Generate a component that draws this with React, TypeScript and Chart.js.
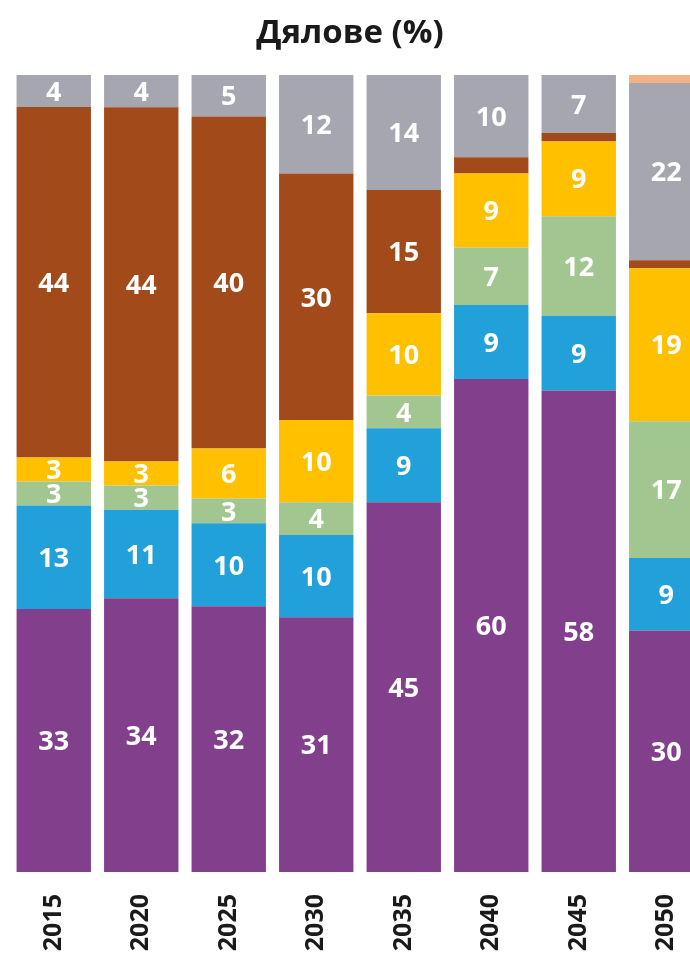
import React, { useEffect, useRef } from "react";
import { Chart, registerables } from "chart.js";

Chart.register(...registerables);

const years = ["2015", "2020", "2025", "2030", "2035", "2040", "2045", "2050"];
const purple = [33, 34, 32, 31, 45, 60, 58, 30];
const blue = [13, 11, 10, 10, 9, 9, 9, 9];
const green = [3, 3, 3, 4, 4, 7, 12, 17];
const yellow = [3, 3, 6, 10, 10, 9, 9, 19];
const brown = [44, 44, 40, 30, 15, 2, 1, 1];
const gray = [4, 4, 5, 12, 14, 10, 7, 22];
const orange = [0, 0, 0, 0, 0, 0, 0, 1];
const titleText = "Дялове (%)";

const series = [
  { name: "purple", values: purple, color: "#813F8C" },
  { name: "blue", values: blue, color: "#22A0DA" },
  { name: "green", values: green, color: "#A2C690" },
  { name: "yellow", values: yellow, color: "#FFC000" },
  { name: "brown", values: brown, color: "#A24A1A" },
  { name: "gray", values: gray, color: "#A5A6AF" },
  { name: "orange", values: orange, color: "#F4B183" },
];

const FONT = "'Open Sans', 'DejaVu Sans', sans-serif";

export default function App() {
  const ref = useRef<HTMLCanvasElement | null>(null);
  useEffect(() => {
    if (!ref.current) return;
    const totals = years.map((_, i) => series.reduce((s, d) => s + d.values[i], 0));
    const labelPlugin = {
      id: "segLabels",
      afterDatasetsDraw(chart: any) {
        const ctx = chart.ctx;
        ctx.save();
        ctx.fillStyle = "#FFFFFF";
        ctx.font = `bold 27px ${FONT}`;
        ctx.textAlign = "center";
        ctx.textBaseline = "middle";
        chart.data.datasets.forEach((ds: any, di: number) => {
          const meta = chart.getDatasetMeta(di);
          meta.data.forEach((bar: any, i: number) => {
            const raw = series[di].values[i];
            if (raw < 3) return;
            const y = (bar.y + bar.base) / 2;
            ctx.fillText(String(raw), bar.x, y + 2);
          });
        });
        ctx.restore();
      },
    };
    const titlePlugin = {
      id: "customTitle",
      afterDraw(chart: any) {
        const ctx = chart.ctx;
        ctx.save();
        ctx.fillStyle = "#1A1A1A";
        ctx.font = `bold 33px ${FONT}`;
        ctx.textAlign = "center";
        ctx.textBaseline = "middle";
        ctx.fillText(titleText, 350, 34);
        ctx.restore();
      },
    };
    const chart = new Chart(ref.current, {
      type: "bar",
      data: {
        labels: years,
        datasets: series.map((s) => ({
          label: s.name,
          data: s.values.map((v, i) => (v / totals[i]) * 100),
          backgroundColor: s.color,
          borderWidth: 0,
          barPercentage: 0.85,
          categoryPercentage: 1,
        })),
      },
      options: {
        animation: false,
        responsive: false,
        maintainAspectRatio: false,
        layout: { padding: { top: 75, left: 10, right: 10, bottom: 0 } },
        plugins: {
          legend: { display: false },
          title: { display: false },
          tooltip: { enabled: false },
        },
        scales: {
          x: {
            stacked: true,
            grid: { display: false, drawTicks: false },
            border: { display: false },
            ticks: {
              minRotation: 90,
              maxRotation: 90,
              padding: 22,
              color: "#1A1A1A",
              font: { family: FONT, size: 25, weight: "bold" },
            },
            afterFit: (scale: any) => {
              scale.height = 96;
            },
          },
          y: {
            stacked: true,
            display: false,
            min: 0,
            max: 100,
          },
        },
      },
      plugins: [labelPlugin, titlePlugin],
    });
    return () => chart.destroy();
  }, []);
  return (
    <div style={{ position: "fixed", left: 0, top: 0, width: 690, height: 968, overflow: "hidden", background: "#FFFFFF" }}>
      <canvas ref={ref} width={720} height={968} style={{ display: "block", width: 720, height: 968 }} />
    </div>
  );
}
